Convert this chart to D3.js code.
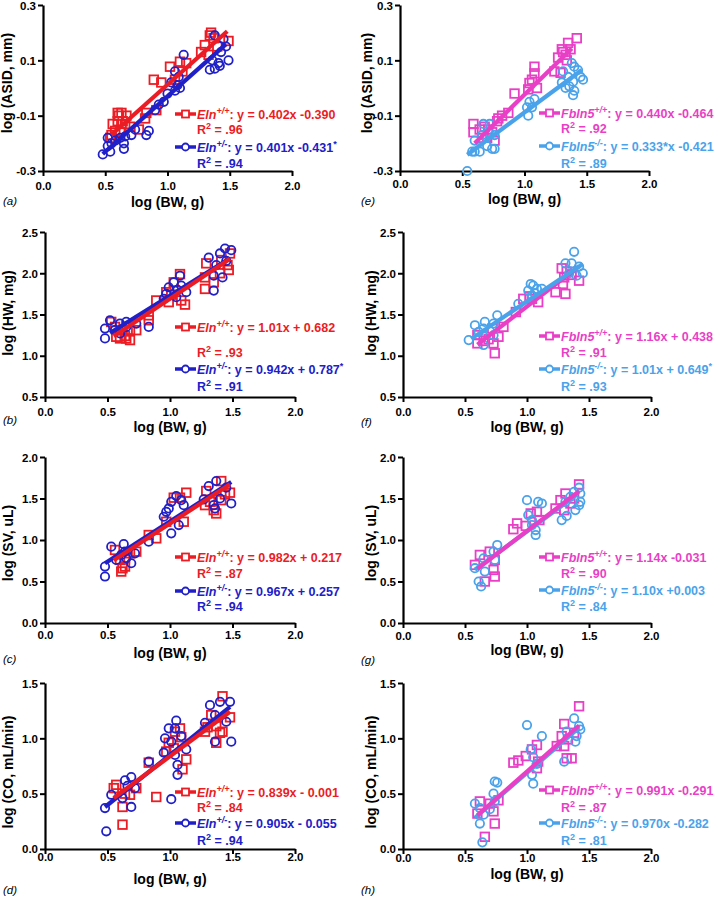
<!DOCTYPE html>
<html><head><meta charset="utf-8">
<script src="https://cdn.jsdelivr.net/npm/d3@7"></script>
<style>body{margin:0;background:#fff;} svg{display:block;} text{font-family:"Liberation Sans",Arial,sans-serif;}</style>
</head><body><svg id="chart" width="727" height="900"></svg>
<script>
// ---------- DATA ----------
const xTicks = [0, 0.5, 1.0, 1.5, 2.0];
const yTicksASID = [-0.3, -0.1, 0.1, 0.3];
const yTicksHW = [0.5, 1.0, 1.5, 2.0, 2.5];
const yTicksSV = [0.0, 0.5, 1.0, 1.5, 2.0];
const yTicksCO = [0.0, 0.5, 1.0, 1.5];
const yTitles = ["log (ASID, mm)", "log (HW, mg)", "log (SV, uL)", "log (CO, mL/min)"];
const xTitle = "log (BW, g)";
const panelLetters = ["a", "b", "c", "d", "e", "f", "g", "h"];
const genes = ["Eln", "Fbln5"];
const elnGenotypes = ["+/+", "+/-"];
const fbln5Genotypes = ["+/+", "-/-"];

// Panel a: ASID, Eln
const aWT = [[1.34,0.19],[1.37,0.18],[1.35,0.20],[1.49,0.17],[1.30,0.155],[1.27,0.13],[1.33,0.12],[1.40,0.15],[1.15,0.09],[1.10,0.095],[1.02,0.077],[1.12,0.06],[0.89,0.03],[0.95,0.02],[1.06,0.03],[0.91,-0.08],[0.83,-0.09],[0.82,-0.11],[0.63,-0.09],[0.67,-0.10],[0.60,-0.12],[0.56,-0.13],[0.66,-0.13],[0.70,-0.14],[0.58,-0.155],[0.62,-0.16],[0.55,-0.17],[0.77,-0.15],[0.54,-0.18],[0.61,-0.10],[0.64,-0.12],[0.60,-0.09]];
const aHet = [[1.38,0.19],[1.45,0.177],[1.47,0.15],[1.43,0.13],[1.49,0.10],[1.41,0.09],[1.34,0.066],[1.38,0.07],[1.36,0.10],[1.42,0.08],[1.13,0.12],[1.06,0.06],[1.09,0.04],[1.03,0.02],[1.10,0.0],[1.06,-0.01],[1.00,-0.02],[0.97,-0.05],[0.93,-0.06],[0.90,-0.08],[1.08,0.01],[0.85,-0.155],[0.83,-0.17],[0.74,-0.15],[0.71,-0.17],[0.66,-0.175],[0.62,-0.18],[0.65,-0.20],[0.58,-0.19],[0.55,-0.20],[0.52,-0.21],[0.54,-0.23],[0.48,-0.24],[0.65,-0.22],[0.52,-0.18]];
const aFit = [[0.402,-0.390,0.55,1.48],[0.401,-0.431,0.48,1.47]];
const aEq = ["y = 0.402x -0.390", "y = 0.401x -0.431"];
const aStar = ["", "*"];
const aR2 = [".96", ".94"];

// Panel b: HW, Eln
const bWT = [[1.48,2.24],[1.47,2.04],[1.41,2.16],[1.29,2.12],[1.28,1.81],[1.35,1.89],[1.28,1.95],[1.46,2.10],[1.40,2.0],[1.08,1.99],[1.03,1.89],[1.09,1.67],[0.97,1.77],[0.89,1.67],[0.99,1.65],[1.01,1.74],[1.12,1.62],[0.83,1.43],[0.83,1.49],[0.73,1.31],[0.68,1.31],[0.65,1.21],[0.60,1.21],[0.57,1.23],[0.53,1.41],[0.56,1.35],[0.62,1.31],[0.68,1.19],[0.64,1.24]];
const bHet = [[1.44,2.30],[1.49,2.28],[1.40,2.24],[1.31,2.19],[1.37,2.10],[1.35,1.97],[1.42,1.95],[1.35,1.79],[1.45,2.15],[1.08,1.97],[1.03,1.89],[0.99,1.83],[1.09,1.85],[1.13,1.77],[0.97,1.75],[1.05,1.71],[0.95,1.69],[1.06,1.80],[0.83,1.35],[0.73,1.39],[0.65,1.41],[0.60,1.39],[0.56,1.31],[0.52,1.43],[0.48,1.33],[0.48,1.21],[0.60,1.27],[0.65,1.35]];
const bFit = [[1.01,0.682,0.55,1.48],[0.942,0.787,0.52,1.47]];
const bEq = ["y = 1.01x + 0.682", "y = 0.942x + 0.787"];
const bStar = ["", "*"];
const bR2 = [".93", ".91"];

// Panel c: SV, Eln
const cWT = [[1.41,1.71],[1.48,1.57],[1.41,1.48],[1.29,1.59],[1.28,1.42],[1.35,1.36],[1.37,1.32],[1.32,1.46],[1.13,1.57],[1.08,1.51],[1.03,1.51],[1.11,1.22],[0.97,1.22],[0.89,1.02],[0.83,1.06],[0.73,0.86],[0.68,0.84],[0.64,0.78],[0.56,0.88],[0.60,0.76],[0.62,0.66],[0.61,0.62],[0.64,0.68],[1.44,1.55]];
const cHet = [[1.37,1.71],[1.31,1.65],[1.45,1.63],[1.49,1.44],[1.40,1.50],[1.35,1.42],[1.36,1.38],[1.27,1.49],[1.05,1.53],[1.09,1.48],[1.01,1.46],[1.11,1.42],[0.99,1.38],[0.95,1.28],[0.97,1.34],[1.07,1.18],[1.01,1.08],[0.83,0.98],[0.72,0.84],[0.69,0.72],[0.64,0.86],[0.65,0.78],[0.61,0.82],[0.53,0.92],[0.48,0.68],[0.48,0.56],[0.57,0.76],[0.63,0.95]];
const cFit = [[0.982,0.217,0.55,1.48],[0.967,0.257,0.48,1.49]];
const cEq = ["y = 0.982x + 0.217", "y = 0.967x + 0.257"];
const cStar = ["", ""];
const cR2 = [".87", ".94"];

// Panel d: CO, Eln
const dWT = [[1.42,1.38],[1.33,1.21],[1.48,1.19],[1.37,1.11],[1.42,1.06],[1.28,1.06],[1.37,0.96],[1.30,1.10],[1.08,1.09],[1.09,1.01],[1.04,1.06],[0.99,0.96],[1.03,0.91],[0.97,0.88],[1.13,0.81],[1.10,0.72],[0.83,0.78],[0.89,0.47],[0.73,0.55],[0.68,0.49],[0.62,0.38],[0.62,0.22],[0.57,0.58],[0.55,0.55],[0.64,0.50],[1.40,1.05]];
const dHet = [[1.48,1.33],[1.40,1.33],[1.32,1.30],[1.36,1.21],[1.28,1.14],[1.45,1.15],[1.36,0.97],[1.49,0.97],[1.05,1.16],[0.99,1.09],[1.04,1.09],[0.96,1.00],[1.01,0.97],[1.09,1.02],[1.13,0.90],[1.04,0.85],[1.06,0.76],[1.06,0.67],[0.95,0.87],[1.01,0.45],[0.83,0.79],[0.69,0.65],[0.64,0.62],[0.72,0.55],[0.69,0.38],[0.62,0.46],[0.53,0.49],[0.48,0.37],[0.49,0.16],[0.66,0.57]];
const dFit = [[0.839,-0.001,0.55,1.48],[0.905,-0.055,0.48,1.48]];
const dEq = ["y = 0.839x - 0.001", "y = 0.905x - 0.055"];
const dStar = ["", ""];
const dR2 = [".84", ".94"];

// Panel e: ASID, Fbln5
const eWT = [[1.42,0.18],[1.35,0.163],[1.37,0.14],[1.30,0.14],[1.33,0.12],[1.27,0.11],[1.31,0.13],[1.24,0.06],[1.29,0.055],[1.34,0.10],[1.08,0.077],[1.08,0.053],[1.06,0.03],[1.04,0.018],[1.10,0.0],[1.03,-0.005],[0.92,-0.02],[0.87,-0.09],[0.82,-0.10],[0.79,-0.11],[0.78,-0.12],[0.71,-0.15],[0.74,-0.16],[0.64,-0.15],[0.59,-0.13],[0.59,-0.16],[0.66,-0.18],[0.76,-0.19],[0.70,-0.18],[0.68,-0.14]];
const eKO = [[1.38,0.09],[1.40,0.077],[1.43,0.065],[1.31,0.06],[1.35,0.04],[1.45,0.04],[1.39,0.023],[1.30,0.02],[1.36,0.006],[1.40,-0.01],[1.39,-0.026],[1.47,0.03],[1.33,0.0],[1.08,-0.04],[1.04,-0.05],[1.02,-0.07],[1.06,-0.07],[1.03,-0.10],[0.72,-0.13],[0.67,-0.13],[0.71,-0.16],[0.76,-0.17],[0.66,-0.17],[0.60,-0.19],[0.70,-0.21],[0.74,-0.22],[0.76,-0.22],[0.64,-0.23],[0.60,-0.23],[0.54,-0.30],[0.58,-0.23]];
const eFit = [[0.440,-0.464,0.60,1.38],[0.333,-0.421,0.54,1.46]];
const eEq = ["y = 0.440x -0.464", "y = 0.333*x -0.421"];
const eStar = ["", ""];
const eR2 = [".92", ".89"];

// Panel f: HW, Fbln5
const fWT = [[1.28,2.06],[1.30,1.95],[1.23,1.77],[1.31,1.75],[1.29,1.87],[1.42,1.91],[1.32,2.02],[1.36,1.98],[0.97,1.69],[1.04,1.69],[1.09,1.65],[1.02,1.72],[0.91,1.53],[0.81,1.35],[0.72,1.33],[0.73,1.15],[0.74,1.03],[0.60,1.25],[0.60,1.15],[0.77,1.23],[0.69,1.20],[0.65,1.18]];
const fKO = [[1.38,2.26],[1.31,2.12],[1.36,2.12],[1.42,2.08],[1.45,2.0],[1.40,1.97],[1.34,2.0],[1.03,1.87],[1.05,1.85],[1.08,1.81],[1.12,1.81],[1.01,1.79],[1.04,1.73],[0.93,1.63],[0.76,1.49],[0.73,1.39],[0.66,1.41],[0.58,1.37],[0.61,1.29],[0.65,1.33],[0.53,1.19],[0.65,1.13],[0.73,1.25],[0.70,1.30],[1.06,1.76]];
const fFit = [[1.16,0.438,0.60,1.42],[1.01,0.649,0.55,1.45]];
const fEq = ["y = 1.16x + 0.438", "y = 1.01x + 0.649"];
const fStar = ["", "*"];
const fR2 = [".91", ".93"];

// Panel g: SV, Fbln5
const gWT = [[1.42,1.67],[1.31,1.56],[1.27,1.48],[1.23,1.38],[1.35,1.44],[1.30,1.36],[1.08,1.34],[1.03,1.32],[1.10,1.24],[0.92,1.20],[0.89,1.13],[0.99,1.17],[0.70,0.86],[0.62,0.82],[0.58,0.70],[0.74,0.76],[0.73,0.64],[0.74,0.56],[0.66,0.50],[1.38,1.50]];
const gKO = [[1.38,1.58],[1.42,1.63],[1.43,1.46],[1.42,1.42],[1.39,1.36],[1.31,1.46],[1.28,1.24],[1.32,1.29],[1.00,1.48],[1.09,1.46],[1.12,1.44],[1.01,1.30],[1.04,1.24],[1.04,1.18],[1.07,1.12],[1.07,1.06],[0.76,0.94],[0.73,0.86],[0.74,0.76],[0.65,0.78],[0.58,0.66],[0.66,0.62],[0.61,0.50],[0.63,0.44],[1.35,1.52],[1.43,1.56]];
const gFit = [[1.14,-0.031,0.60,1.42],[1.10,0.003,0.58,1.40]];
const gEq = ["y = 1.14x -0.031", "y = 1.10x +0.003"];
const gStar = ["", ""];
const gR2 = [".90", ".84"];

// Panel h: CO, Fbln5
const hWT = [[1.42,1.29],[1.30,1.13],[1.28,1.02],[1.33,0.99],[1.30,0.93],[1.24,0.93],[1.36,0.82],[1.32,0.82],[1.08,0.94],[1.04,0.90],[0.99,0.84],[0.93,0.80],[0.89,0.78],[1.09,0.79],[1.08,0.73],[0.77,0.44],[0.70,0.41],[0.62,0.43],[0.60,0.32],[0.73,0.34],[0.74,0.23],[0.66,0.11],[1.38,1.05]];
const hKO = [[1.38,1.18],[1.00,1.12],[1.12,1.02],[1.42,1.11],[1.40,1.02],[1.32,1.06],[1.30,0.79],[1.39,0.97],[1.03,0.90],[1.05,0.83],[1.08,0.77],[1.04,0.67],[1.05,0.59],[0.74,0.61],[0.76,0.60],[0.73,0.50],[0.74,0.43],[0.58,0.41],[0.62,0.37],[0.65,0.31],[0.62,0.23],[0.64,0.06],[0.70,0.36],[1.43,1.08]];
const hFit = [[0.991,-0.291,0.60,1.42],[0.970,-0.282,0.58,1.42]];
const hEq = ["y = 0.991x -0.291", "y = 0.970x -0.282"];
const hStar = ["", ""];
const hR2 = [".87", ".81"];

// ---------- STYLE / LAYOUT ----------
const RED = "#ec1c24", BLUE = "#2020c8", MAG = "#e93fc6", LBLUE = "#4aa3ea";
const FONT = '"Liberation Sans", Arial, sans-serif';
const fmt = d => d.toFixed(1);

const layout = [
  {d:[aWT,aHet],fit:aFit,eq:aEq,star:aStar,r2:aR2,gene:0,yt:yTicksASID,ytitle:0,xr:[43,292],yr:[171,5],ytX:12,ytC:83,letX:3,letY:205,xtY:207,tkY:190,legX:175,legY:[114,129,147,163],top:"wt"},
  {d:[bWT,bHet],fit:bFit,eq:bEq,star:bStar,r2:bR2,gene:0,yt:yTicksHW,ytitle:1,xr:[45,295],yr:[397,232],ytX:13,ytC:313,letX:3,letY:424,xtY:432,tkY:416,legX:175,legY:[327,352,369,386],top:"wt"},
  {d:[cWT,cHet],fit:cFit,eq:cEq,star:cStar,r2:cR2,gene:0,yt:yTicksSV,ytitle:2,xr:[45,295],yr:[623,457],ytX:13,ytC:543,letX:3,letY:663,xtY:658,tkY:639,legX:175,legY:[557,573,591,606],top:"wt"},
  {d:[dWT,dHet],fit:dFit,eq:dEq,star:dStar,r2:dR2,gene:0,yt:yTicksCO,ytitle:3,xr:[45,295],yr:[849,683],ytX:13,ytC:772,letX:3,letY:894,xtY:884,tkY:861,legX:175,legY:[792,807,823,840],top:"wt"},
  {d:[eWT,eKO],fit:eFit,eq:eEq,star:eStar,r2:eR2,gene:1,yt:yTicksASID,ytitle:0,xr:[400,649],yr:[171,5],ytX:372,ytC:83,letX:361,letY:205,xtY:204,tkY:188,legX:539,legY:[113,128,146,163],top:"wt"},
  {d:[fWT,fKO],fit:fFit,eq:fEq,star:fStar,r2:fR2,gene:1,yt:yTicksHW,ytitle:1,xr:[403,651],yr:[397,232],ytX:376,ytC:313,letX:361,letY:426,xtY:432,tkY:416,legX:539,legY:[336,352,369,386],top:"mut"},
  {d:[gWT,gKO],fit:gFit,eq:gEq,star:gStar,r2:gR2,gene:1,yt:yTicksSV,ytitle:2,xr:[403,651],yr:[623,457],ytX:376,ytC:543,letX:361,letY:664,xtY:655,tkY:640,legX:539,legY:[557,573,590,606],top:"wt"},
  {d:[hWT,hKO],fit:hFit,eq:hEq,star:hStar,r2:hR2,gene:1,yt:yTicksCO,ytitle:3,xr:[403,651],yr:[849,683],ytX:376,ytC:772,letX:361,letY:894,xtY:879,tkY:862,legX:539,legY:[790,807,823,840],top:"wt"}
];

const svg = d3.select("#chart");
svg.append("rect").attr("width",727).attr("height",900).attr("fill","#fff");

function drawMarker(g, shape, cx, cy, size, color, sw) {
  if (shape === "square") {
    g.append("rect").attr("x", cx - size/2).attr("y", cy - size/2)
      .attr("width", size).attr("height", size)
      .attr("fill", "#fff").attr("stroke", color).attr("stroke-width", sw);
  } else {
    g.append("circle").attr("cx", cx).attr("cy", cy).attr("r", size/2)
      .attr("fill", "#fff").attr("stroke", color).attr("stroke-width", sw);
  }
}

layout.forEach((p, i) => {
  const g = svg.append("g");
  const x = d3.scaleLinear().domain([0, 2]).range(p.xr);
  const ydom = d3.extent(p.yt);
  const y = d3.scaleLinear().domain(ydom).range(p.yr);
  const colors = p.gene === 0 ? [RED, BLUE] : [MAG, LBLUE];
  const shapes = ["square", "circle"];
  const genotypes = p.gene === 0 ? elnGenotypes : fbln5Genotypes;

  // titles (drawn first so tick labels sit on top)
  g.append("text").attr("x", (p.xr[0] + p.xr[1]) / 2).attr("y", p.xtY)
    .attr("text-anchor", "middle").style("font-family", FONT).style("font-size", "14px")
    .style("font-weight", "bold").text(xTitle);
  g.append("text").attr("transform", `translate(${p.ytX},${p.ytC}) rotate(-90)`)
    .attr("text-anchor", "middle").style("font-family", FONT).style("font-size", "14px")
    .style("font-weight", "bold").text(yTitles[p.ytitle]);
  g.append("text").attr("x", p.letX).attr("y", p.letY).style("font-family", FONT)
    .style("font-size", "11.5px").style("font-style", "italic").text(`(${panelLetters[i]})`);

  // axes
  const xAxis = d3.axisBottom(x).tickValues(xTicks).tickFormat(fmt).tickSize(5).tickSizeOuter(0);
  const yAxis = d3.axisLeft(y).tickValues(p.yt).tickFormat(fmt).tickSize(5).tickSizeOuter(0).tickPadding(2);
  const ga = g.append("g").attr("transform", `translate(0,${p.yr[0]})`).call(xAxis);
  ga.selectAll("text").attr("y", p.tkY - p.yr[0]).attr("dy", 0);
  const gy = g.append("g").attr("transform", `translate(${p.xr[0]},0)`).call(yAxis);
  gy.selectAll("text").attr("dy", (d) => d === ydom[1] ? "0.42em" : "0.34em");
  [ga, gy].forEach(a => {
    a.select(".domain").attr("stroke", "#000").attr("stroke-width", 2.2);
    a.selectAll(".tick line").attr("stroke", "#000").attr("stroke-width", 2);
    a.selectAll("text").attr("fill", "#000").style("font-family", FONT)
      .style("font-size", "11.5px").style("font-weight", "bold");
  });

  // points
  [0, 1].forEach(s => {
    g.append("g").selectAll(s === 0 ? "rect" : "circle").data(p.d[s]).join(s === 0 ? "rect" : "circle")
      .each(function(d) {
        const el = d3.select(this);
        if (s === 0) {
          el.attr("x", x(d[0]) - 4.3).attr("y", y(d[1]) - 4.3).attr("width", 8.6).attr("height", 8.6);
        } else {
          el.attr("cx", x(d[0])).attr("cy", y(d[1])).attr("r", 4.2);
        }
      })
      .attr("fill", "none").attr("stroke", colors[s]).attr("stroke-width", 1.8);
  });

  // fit lines
  const order = p.top === "wt" ? [1, 0] : [0, 1];
  order.forEach(s => {
    const f = p.fit[s];
    g.append("line")
      .attr("x1", x(f[2])).attr("y1", y(f[0] * f[2] + f[1]))
      .attr("x2", x(f[3])).attr("y2", y(f[0] * f[3] + f[1]))
      .attr("stroke", colors[s]).attr("stroke-width", 4.2);
  });

  // legend
  [0, 1].forEach(s => {
    const cy = p.legY[s * 2], ry = p.legY[s * 2 + 1];
    const lg = g.append("g");
    lg.append("line").attr("x1", p.legX).attr("x2", p.legX + 21).attr("y1", cy).attr("y2", cy)
      .attr("stroke", colors[s]).attr("stroke-width", 3.5);
    drawMarker(lg, shapes[s], p.legX + 10.5, cy, 7, colors[s], 1.8);
    const t = lg.append("text").attr("x", p.legX + 22).attr("y", cy + 4.5).attr("fill", colors[s])
      .style("font-family", FONT).style("font-size", "12.5px").style("font-weight", "bold");
    t.append("tspan").style("font-style", "italic").text(genes[p.gene]);
    t.append("tspan").style("font-style", "italic").style("font-size", "9px").attr("dy", -5).text(genotypes[s]);
    t.append("tspan").attr("dy", 5).text(": " + p.eq[s]);
    if (p.star[s]) t.append("tspan").style("font-size", "9px").attr("dy", -5).text(p.star[s]);
    const r = lg.append("text").attr("x", p.legX + 22).attr("y", ry + 4.5).attr("fill", colors[s])
      .style("font-family", FONT).style("font-size", "12.5px").style("font-weight", "bold");
    r.append("tspan").text("R");
    r.append("tspan").style("font-size", "9px").attr("dy", -4.5).text("2");
    r.append("tspan").attr("dy", 4.5).text(" = " + p.r2[s]);
  });
});
</script></body></html>
